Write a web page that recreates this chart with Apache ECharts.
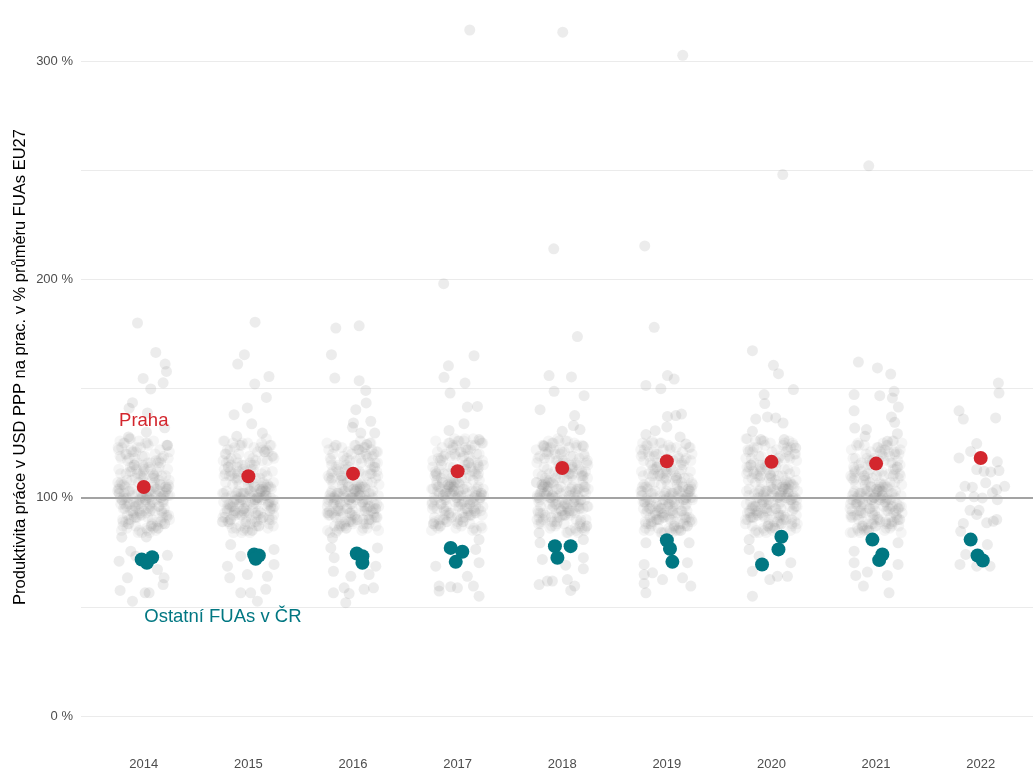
<!DOCTYPE html>
<html>
<head>
<meta charset="utf-8">
<script src="https://cdn.jsdelivr.net/npm/echarts@6/dist/echarts.min.js"></script>
<style>
  html, body { margin: 0; padding: 0; background: #fff; }
  #chart { width: 1033px; height: 771px; }
</style>
</head>
<body>
<div id="chart"></div>
<script>
const years = ['2014', '2015', '2016', '2017', '2018', '2019', '2020', '2021', '2022'];
const yTicks = [0, 100, 200, 300];

// Praha (one per year)
const praha = [104.9, 109.8, 111.0, 112.1, 113.6, 116.7, 116.4, 115.6, 118.2];

// other Czech FUAs: values and horizontal jitter (in years)
const ostatniVals = [
    [71.7, 72.7, 70.2], [74.0, 73.5, 72.0], [74.4, 73.2, 70.2],
    [77.0, 75.2, 70.6], [77.8, 77.8, 72.5], [80.5, 76.6, 70.6],
    [82.1, 76.3, 69.4], [80.8, 74.0, 71.4], [80.8, 73.5, 71.2]
];
const ostatniJitter = [
    [-0.02, 0.08, 0.03], [0.055, 0.10, 0.07], [0.036, 0.09, 0.09],
    [-0.066, 0.045, -0.018], [-0.07, 0.08, -0.046], [0, 0.03, 0.053],
    [0.095, 0.067, -0.09], [-0.035, 0.06, 0.03], [-0.096, -0.03, 0.02]
];

// EU27 FUAs, sparse points read with their offset [jitter, value]
const sparse2014 = [[-0.06,180.0],[0.115,166.5],[0.204,161.2],[0.217,157.8],[-0.006,154.6],[0.185,152.6],[0.067,149.8],[-0.108,143.5],[-0.14,141],[0.035,138.8],[-0.146,127.8],[0.025,130],[0.2,132],[0.226,124],[-0.21,81.9],[0.025,82],[0.226,73.6],[-0.236,70.9],[-0.124,75.5],[-0.156,63.3],[0.194,63.3],[-0.226,57.5],[0.051,56.4],[-0.108,52.6],[0.131,67.1],[0.185,60.2],[0.013,56.4],[-0.076,73.2]];
const sparse2015 = [[0.064,180.4],[-0.038,165.5],[-0.102,161.2],[0.197,155.5],[0.061,152.1],[0.172,145.9],[-0.01,141.1],[-0.137,138],[0.032,133.8],[-0.111,128.1],[0.134,129.6],[-0.169,78.5],[0.245,76.3],[-0.073,73.2],[-0.2,68.6],[0.245,69.4],[-0.178,63.3],[-0.01,64.8],[0.182,64],[-0.073,56.4],[0.022,56.4],[0.166,58],[0.086,52.6]];
const sparse2016 = [[-0.164,177.7],[0.059,178.7],[-0.206,165.5],[-0.174,154.8],[0.059,153.6],[0.122,149.1],[0.126,143.4],[0.027,140.3],[0.004,134.2],[0.17,135],[0.208,129.6],[-0.005,132.2],[0.075,129.6],[0.132,124.3],[-0.196,81.6],[-0.212,77],[-0.18,72.5],[-0.187,66.3],[-0.021,64],[0.154,64.8],[0.218,68.6],[-0.187,56.4],[-0.085,58.7],[-0.069,51.9],[0.106,58],[0.196,58.7],[-0.037,56.1],[0.234,77]];
const sparse2017 = [[0.116,314.2],[-0.133,198],[0.157,165],[-0.088,160.4],[-0.13,155.1],[0.071,152.5],[-0.072,147.9],[0.093,141.5],[0.189,141.8],[0.061,133.9],[-0.082,130.8],[0.205,126.6],[-0.209,68.6],[0.205,70.2],[0.205,80.8],[-0.177,59.5],[-0.066,59.2],[-0.002,58.7],[0.151,59.5],[0.205,54.9],[0.093,64],[-0.177,57.2],[0.173,76.3]];
const sparse2018 = [[0.005,313.2],[-0.081,214],[0.145,173.8],[-0.126,155.9],[0.088,155.3],[-0.078,148.7],[0.209,146.7],[-0.212,140.3],[0.119,137.6],[0.107,133],[0.17,131.2],[0,130.4],[-0.174,123.5],[0.202,123.5],[-0.221,83.9],[-0.212,79.3],[0.202,80.8],[-0.19,71.7],[0.202,72.5],[0.202,67.4],[-0.221,60.2],[-0.142,61.8],[-0.094,61.8],[0.081,57.5],[0.119,59.5],[0.049,62.5],[0.033,69.1]];
const sparse2019 = [[0.152,302.6],[-0.211,215.3],[-0.121,178],[-0.2,151.4],[-0.057,149.9],[0.006,155.9],[0.07,154.3],[0.006,137.2],[0.086,137.6],[0.14,138.3],[0,132.4],[-0.111,130.7],[-0.2,128.9],[0.127,127.8],[0.182,124.6],[-0.2,79.3],[0.213,79.3],[0.197,70.2],[-0.217,69.4],[-0.217,64.8],[-0.041,62.5],[-0.217,60.7],[-0.2,56.4],[0.15,63.3],[0.229,59.5],[-0.137,65.6]];
const sparse2020 = [[0.108,248],[-0.182,167.3],[0.019,160.6],[0.067,156.8],[0.21,149.5],[-0.07,147.2],[-0.064,143.1],[-0.15,136],[-0.038,137],[0.041,136.5],[0.111,134.2],[-0.182,130.4],[-0.102,126.6],[0.121,126.6],[0.232,122.8],[-0.213,80.8],[-0.213,76.3],[-0.182,66.3],[-0.016,62.5],[0.057,64],[0.153,64],[-0.182,54.9],[0.185,70.2],[-0.118,73.2]];
const sparse2021 = [[-0.07,252],[-0.169,162.1],[0.013,159.4],[0.14,156.6],[0.172,148.7],[-0.21,147.2],[0.035,146.7],[0.156,145.7],[0.213,141.5],[-0.21,139.8],[0.147,137],[0.178,134.5],[-0.204,131.9],[-0.092,131.2],[-0.105,128.1],[0.204,129.3],[0.108,125.8],[-0.21,75.5],[0.21,79.3],[0.21,69.4],[-0.21,70.2],[-0.194,64.4],[-0.083,65.9],[-0.121,59.5],[0.108,64.4],[0.124,56.4]];
const sparse2022 = [[0.169,152.5],[0.175,147.9],[-0.207,139.8],[-0.166,136],[0.143,136.5],[-0.038,124.8],[-0.207,118.2],[-0.096,121.2],[0.159,116.4],[-0.038,112.9],[0.032,112.1],[0.096,111.8],[0.175,112.4],[0.048,106.8],[-0.15,105.2],[-0.08,104.8],[0.229,105.2],[0.153,103.7],[0.112,102.2],[-0.191,100.4],[-0.064,100.4],[0.016,99.9],[0.159,99.1],[-0.102,94.2],[-0.016,94.2],[-0.038,92.3],[0.153,90],[0.121,89.2],[0.057,88.5],[-0.166,88.2],[-0.191,84.6],[0.064,78.5],[-0.143,74],[-0.198,69.4],[-0.038,68.6],[0.089,68.6]];

// EU27 FUAs, dense core (values estimated from the cluster)
const core2014 = [103,97,112,88,100,106,94,118,91,101,108,96,85,104,99,121,93,110,102,87,
    98,105,114,90,100,95,107,126,92,103,99,111,86,97,104,116,94,101,109,89,
    102,96,113,91,100,106,93,119,98,104,88,107,95,101,123,90,103,97,110,84,
    99,105,115,92,101,96,108,94,102,87,112,98,104,100,117,91,106,95,103,89,
    100,97,111,93,105,99,120,86,102,107,94,114,98,101,90,109,96,104,125,92,
    103,99,106,88,101,95,113,97,104,91,108,100,118,94,102,85,110,98,105,93,
    100,96,107,122,103,90,99,112,95,104,87,101,116,97,106,92,100,109,94,102,
    98,105,89,111,101,96,103,93,119,99,107,91,104,100,86,114,97,102,95,108,
    101,94,106,99,113,92,103,88,100,110,
    118,86,121,110,125,89,116,84,123,113,127,91,115,87,120,109,124,85,117,122,
    111,126,90,114,88,119,125,112,116,121,84,127,118,92,123,110,115,124,86,120,
    117,126,113,87,122,119,114,125,85,121,118,124,88,116,123,111];
const core2015 = [101,95,110,87,99,105,93,117,90,102,107,97,84,103,98,120,92,109,100,88,
    96,104,113,91,99,94,106,125,89,102,98,112,85,96,103,115,93,100,108,90,
    101,97,111,92,99,105,94,122,96,103,87,106,95,100,118,91,102,98,109,86,
    97,104,114,93,100,95,107,92,101,88,111,99,103,98,116,90,105,94,102,89,
    99,96,110,94,104,100,119,85,101,106,93,113,97,102,91,108,95,103,124,92,
    102,98,105,89,100,94,112,96,103,90,107,99,117,93,101,86,109,97,104,92,
    98,95,106,121,102,91,100,111,94,103,88,99,115,96,105,93,101,108,95,100,
    97,104,90,110,100,95,102,92,118,98,106,89,103,99,87,113,96,101,94,107,
    100,93,105,98,112,91,102,89,99,109,
    117,85,122,109,124,90,115,86,121,112,126,89,114,88,119,110,125,84,118,123,
    111,127,91,116,87,120,124,113,115,122,85,126,117,92,121,109,114,123,87,119,
    118,125,112,86,120,121,116,124,84,122,117,125,89,115,123,110];
const core2016 = [102,96,111,89,100,105,93,116,91,101,107,95,85,104,98,119,92,109,101,87,
    97,104,113,90,99,94,106,123,92,102,98,110,86,96,103,115,94,100,108,88,
    101,95,112,91,99,105,93,118,97,103,88,106,94,100,121,90,102,96,109,84,
    98,104,114,92,100,95,107,93,101,87,111,97,103,99,117,91,105,94,102,89,
    99,96,110,93,104,100,120,86,101,106,94,113,97,102,90,108,95,103,124,92,
    102,98,105,88,100,94,112,96,103,91,107,99,116,93,101,85,109,97,104,92,
    99,95,106,122,102,90,100,111,94,103,87,99,114,96,105,92,101,108,95,100,
    97,104,89,110,100,95,102,93,118,98,106,91,103,99,86,113,96,101,94,107,
    100,93,105,98,112,90,102,88,99,109,
    116,87,120,111,123,88,115,85,122,112,125,90,117,86,119,109,124,84,118,121,
    110,126,91,114,89,120,123,113,116,122,85,125,117,92,121,110,114,124,87,119,
    118,125,112,86,122,120,115,123,88,121,117,124,90,114,122,111];
const core2017 = [104,98,113,90,101,107,95,119,92,102,109,97,86,105,100,122,94,111,103,88,
    99,106,115,91,101,96,108,126,93,104,100,112,87,98,105,117,95,102,110,89,
    103,97,114,92,101,107,94,120,99,105,89,108,96,102,124,91,104,98,111,85,
    100,106,116,93,102,97,109,95,103,88,113,99,105,101,118,92,107,96,104,90,
    101,98,112,94,106,100,121,87,103,108,95,115,99,104,91,110,97,105,125,93,
    104,100,107,89,102,96,114,98,105,92,109,101,119,95,103,86,111,99,106,94,
    101,97,108,123,104,91,100,113,96,105,88,102,117,98,107,93,101,110,95,103,
    99,106,90,112,102,97,104,94,120,100,108,92,105,101,87,115,98,103,96,109,
    102,95,107,100,114,93,104,89,101,111,
    119,87,122,111,126,90,117,85,124,114,127,92,116,88,121,110,125,86,118,123,
    112,127,91,115,89,120,126,113,117,122,85,126,119,93,124,111,116,125,87,121,
    118,127,114,88,123,120,115,126,86,122,119,125,89,117,124,112];
const core2018 = [102,98,111,88,101,107,95,117,90,103,109,96,84,105,99,120,93,111,101,86,
    97,106,115,91,100,94,108,124,92,104,98,112,87,96,105,118,95,100,110,89,
    103,97,114,90,101,107,94,121,99,105,89,108,96,102,126,91,104,98,111,85,
    100,106,116,93,102,97,109,95,103,88,113,99,105,101,119,92,107,96,104,90,
    101,97,112,94,106,100,122,87,103,108,95,115,98,104,91,110,96,105,123,93,
    104,99,107,89,102,96,114,98,105,92,109,101,117,94,103,86,111,99,106,93,
    100,96,108,120,104,91,101,113,95,105,88,102,116,97,107,93,100,110,94,103,
    98,106,90,112,101,96,104,93,119,100,108,92,105,99,87,115,97,103,95,109,
    102,94,107,99,113,92,104,89,101,111,
    118,86,121,110,125,89,116,84,123,113,126,91,115,87,120,109,124,85,117,122,
    111,126,90,114,88,119,125,112,116,121,84,127,118,92,123,110,115,124,86,120,
    117,126,113,87,122,119,114,125,85,121,118,124,88,116,123,111];
const core2019 = [100,96,110,87,99,105,93,116,89,101,107,94,84,103,98,119,91,109,100,86,
    95,104,113,89,99,93,106,123,90,102,97,111,85,95,103,117,92,99,108,88,
    101,96,112,90,98,105,92,120,97,103,87,106,94,100,125,89,102,96,109,84,
    98,104,114,91,100,95,107,93,101,86,111,97,103,99,118,90,105,94,102,88,
    99,95,110,92,104,98,121,85,101,106,93,113,96,102,89,108,94,103,122,91,
    102,97,105,87,100,94,112,96,103,90,107,99,115,92,101,85,109,97,104,91,
    99,94,106,119,102,89,100,111,93,103,86,100,114,95,105,91,98,108,93,101,
    96,104,88,110,99,94,102,91,117,98,106,90,103,97,85,113,95,101,92,107,
    100,92,105,97,111,90,102,87,99,109,
    117,85,120,109,124,88,115,84,122,112,125,90,114,86,119,110,123,85,116,121,
    111,125,89,113,87,118,124,111,115,120,84,126,117,91,122,109,114,123,86,119,
    116,125,112,87,121,118,113,124,85,120,117,123,88,115,122,110];
const core2020 = [101,97,111,88,100,106,94,118,90,102,108,95,85,104,99,121,92,110,101,87,
    96,105,114,90,100,94,107,125,91,103,98,112,86,96,104,116,93,100,109,88,
    102,96,113,91,99,106,93,119,97,104,88,107,95,101,123,90,103,97,110,84,
    99,105,115,92,101,96,108,94,102,87,112,98,104,100,117,91,106,95,103,89,
    100,96,111,93,105,99,120,86,102,107,94,114,97,103,90,109,95,104,126,92,
    103,98,106,88,101,95,113,97,104,91,108,100,118,93,102,85,110,98,105,92,
    100,95,107,122,103,90,101,112,94,104,87,100,115,96,106,92,99,109,94,102,
    97,105,89,111,100,95,103,92,119,99,107,91,104,98,86,114,96,102,93,108,
    101,93,106,98,112,91,103,88,100,110,
    118,86,122,110,126,89,116,84,123,113,127,91,115,87,121,109,125,85,117,122,
    111,126,90,114,88,119,124,112,116,121,84,127,118,92,123,110,115,124,86,120,
    117,126,113,87,122,119,114,125,85,121,118,124,88,116,123,111];
const core2021 = [100,96,110,88,99,105,93,117,90,101,107,95,84,103,98,120,92,109,100,86,
    96,104,113,89,99,94,106,124,91,102,97,111,85,96,103,116,93,100,108,88,
    101,95,112,90,99,105,92,119,97,103,87,106,94,100,122,89,102,96,109,84,
    98,104,114,91,100,95,107,93,101,86,111,97,103,99,118,90,105,94,102,88,
    99,96,110,92,104,98,121,85,101,106,93,113,96,102,89,108,95,103,125,91,
    102,97,105,87,100,94,112,96,103,90,107,99,116,93,101,85,109,97,104,92,
    99,95,106,120,102,89,100,111,94,103,87,99,115,96,105,91,100,108,94,101,
    97,104,88,110,99,94,102,92,118,98,106,90,103,98,86,113,95,101,93,107,
    100,92,105,97,111,90,102,87,99,109,
    117,85,121,110,124,88,115,84,122,112,126,90,114,86,120,109,123,85,116,121,
    110,125,89,113,87,118,124,111,115,121,84,126,117,91,122,110,114,123,86,119,
    117,125,112,87,121,118,113,124,85,120,117,124,88,115,122,110];

const sparse = [sparse2014, sparse2015, sparse2016, sparse2017, sparse2018, sparse2019, sparse2020, sparse2021, sparse2022];
const core = [core2014, core2015, core2016, core2017, core2018, core2019, core2020, core2021, []];

// spread dense-core points evenly across the column
function spread(i, y) {
    const f = ((i + 11 * y) * 0.6180339887) % 1;
    return (f - 0.5) * 0.5;
}

const sparseData = [];
sparse.forEach((list, y) => list.forEach(p => sparseData.push([y + p[0], p[1]])));
const coreData = [];
core.forEach((list, y) => list.forEach((v, i) => coreData.push([y + spread(i, y), v])));

const prahaData = praha.map((v, i) => [i, v]);
const ostatniData = [];
ostatniVals.forEach((vals, y) => vals.forEach((v, k) => ostatniData.push([y + ostatniJitter[y][k], v])));

const FONT = "'Liberation Sans', Arial, sans-serif";
const RED = '#d3262d';
const TEAL = '#017782';

const chart = echarts.init(document.getElementById('chart'));

const option = {
    animation: false,
    backgroundColor: '#fff',
    textStyle: { fontFamily: FONT },
    grid: { left: 81, right: 0, top: 61, bottom: 54 },
    xAxis: {
        type: 'value',
        min: -0.6,
        max: 8.5,
        axisLine: { show: false },
        axisTick: { show: false },
        splitLine: { show: false },
        axisLabel: {
            customValues: years.map((y, i) => i),
            formatter: v => years[Math.round(v)],
            color: '#4d4d4d',
            fontSize: 13,
            margin: 42,
            fontFamily: FONT
        }
    },
    yAxis: {
        type: 'value',
        min: 0,
        max: 300,
        interval: 50,
        axisLine: { show: false },
        axisTick: { show: false },
        axisLabel: {
            formatter: v => yTicks.indexOf(v) >= 0 ? v + ' %' : '',
            color: '#4d4d4d',
            fontSize: 13,
            margin: 8,
            fontFamily: FONT
        },
        splitLine: { lineStyle: { color: '#ebebeb', width: 1 } }
    },
    graphic: [{
        type: 'text',
        x: 20,
        y: 367,
        rotation: Math.PI / 2,
        style: {
            text: 'Produktivita práce v USD PPP na prac. v % průměru FUAs EU27',
            font: '16.5px ' + FONT,
            fill: '#000',
            textAlign: 'center',
            textVerticalAlign: 'middle',
            align: 'center',
            verticalAlign: 'middle'
        }
    }],
    series: [
        {
            name: 'FUAs EU27',
            type: 'scatter',
            data: coreData,
            symbolSize: 11,
            silent: true,
            itemStyle: { color: 'rgba(125,125,125,0.08)', opacity: 1 },
            z: 2
        },
        {
            name: 'FUAs EU27 (okraj)',
            type: 'scatter',
            data: sparseData,
            symbolSize: 11,
            clip: false,
            silent: true,
            itemStyle: { color: 'rgba(125,125,125,0.15)', opacity: 1 },
            markLine: {
                silent: true,
                symbol: 'none',
                label: { show: false },
                lineStyle: { color: '#a3a3a3', width: 1.8, type: 'solid' },
                data: [{ yAxis: 100 }]
            },
            z: 2
        },
        {
            name: 'Ostatní FUAs v ČR',
            type: 'scatter',
            data: ostatniData,
            symbolSize: 14,
            itemStyle: { color: TEAL, opacity: 1 },
            z: 4
        },
        {
            name: 'Praha',
            type: 'scatter',
            data: prahaData,
            symbolSize: 14,
            itemStyle: { color: RED, opacity: 1 },
            z: 5
        },
        {
            name: 'labels',
            type: 'scatter',
            symbolSize: 1,
            silent: true,
            itemStyle: { color: 'rgba(0,0,0,0)', opacity: 1 },
            data: [
                { value: [0, 135.3], label: { position: 'inside', formatter: 'Praha', color: RED } },
                { value: [0, 45.4], label: { position: 'right', distance: 0, formatter: 'Ostatní FUAs v ČR', color: TEAL } }
            ],
            label: { show: true, fontSize: 18.5, fontFamily: FONT, opacity: 1 },
            z: 6
        }
    ]
};

chart.setOption(option);
</script>
</body>
</html>
